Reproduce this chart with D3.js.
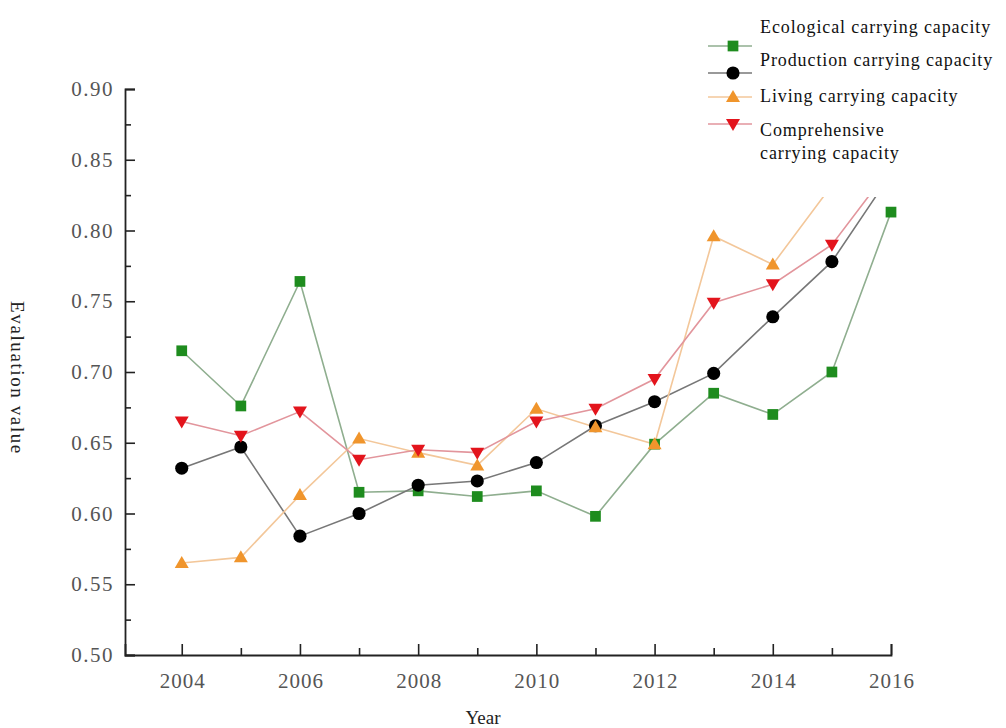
<!DOCTYPE html>
<html>
<head>
<meta charset="utf-8">
<script src="https://cdn.jsdelivr.net/npm/d3@7"></script>
<style>
  body { margin: 0; background: #fff; }
  svg { display: block; }
</style>
</head>
<body>
<svg id="chart" width="1006" height="728"></svg>
<script>
const years = [2004, 2005, 2006, 2007, 2008, 2009, 2010, 2011, 2012, 2013, 2014, 2015, 2016]
const ecological = [0.715, 0.676, 0.764, 0.615, 0.616, 0.612, 0.616, 0.598, 0.649, 0.685, 0.670, 0.700, 0.813]
const production = [0.632, 0.647, 0.584, 0.600, 0.620, 0.623, 0.636, 0.662, 0.679, 0.699, 0.739, 0.778, 0.840]
const living = [0.565, 0.569, 0.613, 0.653, 0.643, 0.634, 0.674, 0.661, 0.649, 0.796, 0.776, 0.832, 0.880]
const comprehensive = [0.665, 0.655, 0.672, 0.638, 0.645, 0.643, 0.665, 0.674, 0.695, 0.749, 0.762, 0.790, 0.845]
const y_ticks = [0.50, 0.55, 0.60, 0.65, 0.70, 0.75, 0.80, 0.85, 0.90]
const x_ticks = [2004, 2006, 2008, 2010, 2012, 2014, 2016]

const series = [
    { name: "Ecological carrying capacity", values: ecological, line: "#8fae8f", fill: "#1e8c1e", shape: "square" },
    { name: "Production carrying capacity", values: production, line: "#777777", fill: "#000000", shape: "circle" },
    { name: "Living carrying capacity", values: living, line: "#f3c79a", fill: "#f0952c", shape: "up" },
    { name: "Comprehensive carrying capacity", values: comprehensive, line: "#e2959c", fill: "#e3141c", shape: "down" }
]

const svg = d3.select("#chart")
const xScale = d3.scaleLinear().domain([2003.04, 2016]).range([125, 891])
const yScale = d3.scaleLinear().domain([0.5, 0.9]).range([655, 89])
const font = "Liberation Serif, serif"

// lines
const line = d3.line()
    .x((d, i) => xScale(years[i]))
    .y(d => yScale(d))

series.forEach(s => {
    svg.append("path")
        .datum(s.values)
        .attr("d", line)
        .attr("fill", "none")
        .attr("stroke", s.line)
        .attr("stroke-width", 1.6)
})

function markerPath(shape) {
    if (shape === "square") return d3.symbol().type(d3.symbolSquare).size(115)()
    if (shape === "circle") return d3.symbol().type(d3.symbolCircle).size(135)()
    if (shape === "up") return "M0,-7L7,5L-7,5Z"
    return "M0,7L7,-5L-7,-5Z"
}

series.forEach(s => {
    svg.append("g")
        .selectAll("path")
        .data(s.values)
        .join("path")
        .attr("d", markerPath(s.shape))
        .attr("transform", (d, i) => "translate(" + xScale(years[i]) + "," + yScale(d) + ")")
        .attr("fill", s.fill)
})

// white legend box hides what runs above it
svg.append("rect")
    .attr("x", 698).attr("y", 0)
    .attr("width", 308).attr("height", 197)
    .attr("fill", "#fff")

// axes, ticks inward
svg.append("g")
    .attr("transform", "translate(125,0)")
    .call(d3.axisRight(yScale).tickValues(y_ticks).tickSize(10).tickFormat(""))
svg.append("g")
    .attr("transform", "translate(125,0)")
    .call(d3.axisRight(yScale).tickValues(d3.range(0.525, 0.9, 0.05)).tickSize(6).tickFormat(""))
    .call(g => g.select(".domain").remove())

svg.append("g")
    .attr("transform", "translate(0,655)")
    .call(d3.axisTop(xScale).tickValues(x_ticks).tickSize(11).tickFormat(""))
svg.append("g")
    .attr("transform", "translate(0,655)")
    .call(d3.axisTop(xScale).tickValues(d3.range(2005, 2016, 2)).tickSize(7).tickFormat(""))
    .call(g => g.select(".domain").remove())

svg.selectAll(".domain").attr("stroke", "#222").attr("stroke-width", 1.8)
svg.selectAll(".tick line").attr("stroke", "#222").attr("stroke-width", 1.6)

// tick labels
svg.append("g")
    .selectAll("text")
    .data(y_ticks)
    .join("text")
    .attr("x", 114)
    .attr("y", d => yScale(d) + 7)
    .attr("text-anchor", "end")
    .attr("font-family", font)
    .attr("font-size", 21)
    .attr("letter-spacing", 1.5)
    .attr("fill", "#555")
    .text(d => d.toFixed(2))

svg.append("g")
    .selectAll("text")
    .data(x_ticks)
    .join("text")
    .attr("x", d => xScale(d) + 1)
    .attr("y", 688)
    .attr("text-anchor", "middle")
    .attr("font-family", font)
    .attr("font-size", 21)
    .attr("letter-spacing", 1)
    .attr("fill", "#555")
    .text(d => d)

// axis titles
svg.append("text")
    .attr("transform", "translate(11,378) rotate(90)")
    .attr("text-anchor", "middle")
    .attr("font-family", font)
    .attr("font-size", 19)
    .attr("letter-spacing", 1.6)
    .attr("fill", "#222")
    .text("Evaluation value")

svg.append("text")
    .attr("x", 483)
    .attr("y", 724)
    .attr("text-anchor", "middle")
    .attr("font-family", font)
    .attr("font-size", 19)
    .attr("fill", "#222")
    .text("Year")

// legend
const legend_rows = [
    { y: 46, text_y: [33] },
    { y: 73, text_y: [66] },
    { y: 97, text_y: [102] },
    { y: 124, text_y: [136, 159] }
]
const legend_text = [
    ["Ecological carrying capacity"],
    ["Production carrying capacity"],
    ["Living carrying capacity"],
    ["Comprehensive", "carrying capacity"]
]

series.forEach((s, i) => {
    const r = legend_rows[i]
    svg.append("line")
        .attr("x1", 708).attr("x2", 752)
        .attr("y1", r.y).attr("y2", r.y)
        .attr("stroke", s.line)
        .attr("stroke-width", 1.6)
    svg.append("path")
        .attr("d", markerPath(s.shape))
        .attr("transform", "translate(733," + r.y + ")")
        .attr("fill", s.fill)
    legend_text[i].forEach((t, j) => {
        svg.append("text")
            .attr("x", 760)
            .attr("y", r.text_y[j])
            .attr("font-family", font)
            .attr("font-size", 18)
            .attr("letter-spacing", 0.9)
            .attr("fill", "#111")
            .text(t)
    })
})
</script>
</body>
</html>
